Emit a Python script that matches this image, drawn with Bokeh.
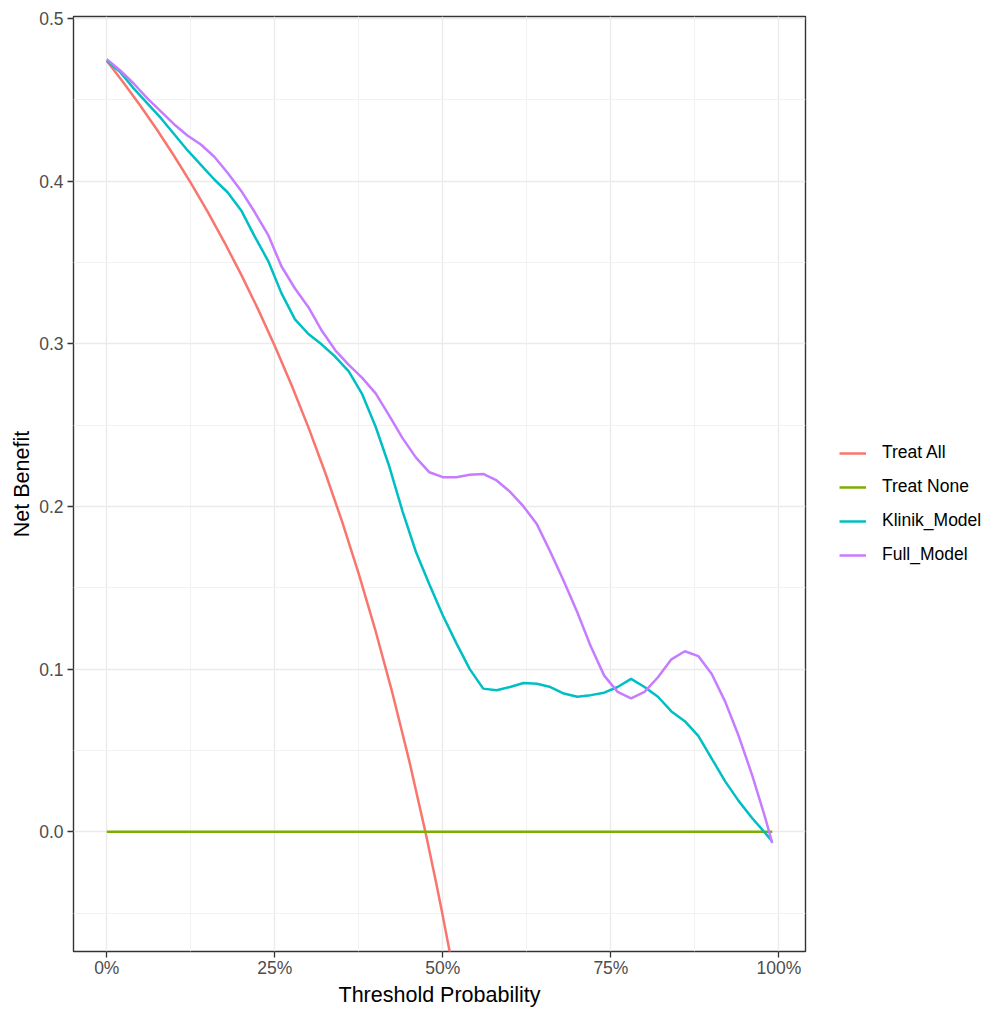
from bokeh.plotting import figure
from bokeh.models import Legend, LegendItem, FixedTicker, NumeralTickFormatter, Range1d
from bokeh.embed import file_html
from bokeh.resources import INLINE

# ---- data ----
thresholds = [0.00, 0.02, 0.04, 0.06, 0.08, 0.10, 0.12, 0.14, 0.16, 0.18,
              0.20, 0.22, 0.24, 0.26, 0.28, 0.30, 0.32, 0.34, 0.36, 0.38,
              0.40, 0.42, 0.44, 0.46, 0.48, 0.50, 0.52, 0.54, 0.56, 0.58,
              0.60, 0.62, 0.64, 0.66, 0.68, 0.70, 0.72, 0.74, 0.76, 0.78,
              0.80, 0.82, 0.84, 0.86, 0.88, 0.90, 0.92, 0.94, 0.96, 0.98, 0.99]

klinik_model = [0.474, 0.467, 0.457, 0.448, 0.439, 0.429, 0.419, 0.410, 0.401, 0.393,
                0.382, 0.366, 0.351, 0.331, 0.315, 0.306, 0.2995, 0.292, 0.283, 0.269,
                0.249, 0.225, 0.197, 0.172, 0.152, 0.133, 0.116, 0.100, 0.088, 0.087,
                0.089, 0.0915, 0.091, 0.089, 0.085, 0.083, 0.084, 0.0855, 0.089, 0.094,
                0.089, 0.083, 0.074, 0.068, 0.059, 0.045, 0.031, 0.019, 0.0085, -0.001, -0.006]

full_model = [0.475, 0.468, 0.460, 0.451, 0.443, 0.435, 0.428, 0.4225, 0.415, 0.405,
              0.394, 0.381, 0.367, 0.3475, 0.334, 0.3225, 0.308, 0.296, 0.287, 0.279,
              0.2695, 0.256, 0.242, 0.230, 0.221, 0.218, 0.218, 0.2195, 0.220, 0.216,
              0.209, 0.200, 0.189, 0.172, 0.154, 0.135, 0.114, 0.096, 0.086, 0.082,
              0.086, 0.095, 0.106, 0.111, 0.108, 0.097, 0.080, 0.059, 0.035, 0.008, -0.007]

treat_none = [0.0] * len(thresholds)

treat_all_thresholds = [0.0, 0.025, 0.05, 0.075, 0.10, 0.125, 0.15, 0.175, 0.20, 0.225,
                        0.25, 0.275, 0.30, 0.325, 0.35, 0.375, 0.40, 0.425, 0.45, 0.475,
                        0.49, 0.50, 0.51, 0.52]
treat_all = [0.474, 0.4605, 0.4463, 0.4314, 0.4156, 0.3989, 0.3812, 0.3624, 0.3425, 0.3213,
             0.2987, 0.2745, 0.2486, 0.2207, 0.1908, 0.1584, 0.1233, 0.0852, 0.0436, -0.0019,
             -0.0314, -0.052, -0.0735, -0.0958]

x_ticks = [0.0, 0.25, 0.5, 0.75, 1.0]
x_minor = [0.125, 0.375, 0.625, 0.875]
y_ticks = [0.0, 0.1, 0.2, 0.3, 0.4, 0.5]
y_minor = [-0.05, 0.05, 0.15, 0.25, 0.35, 0.45]

series_names = ["Treat All", "Treat None", "Klinik_Model", "Full_Model"]
series_colors = ["#F8766D", "#7CAE00", "#00BFC4", "#C77CFF"]

FONT = "Liberation Sans"

p = figure(frame_width=732, frame_height=935,
           x_range=Range1d(-0.0495, 1.0395), y_range=Range1d(-0.0736, 0.5012),
           output_backend="svg", toolbar_location=None,
           min_border_left=73, min_border_right=10, min_border_top=16, min_border_bottom=50,
           x_axis_label="Threshold Probability", y_axis_label="Net Benefit")

p.background_fill_color = "white"
p.border_fill_color = "white"
p.outline_line_color = "#333333"
p.outline_line_width = 1.4

p.xaxis.ticker = FixedTicker(ticks=x_ticks, minor_ticks=x_minor)
p.yaxis.ticker = FixedTicker(ticks=y_ticks, minor_ticks=y_minor)
p.xaxis.formatter = NumeralTickFormatter(format="0%")
p.yaxis.formatter = NumeralTickFormatter(format="0.0")

for ax in (p.xaxis, p.yaxis):
    ax.axis_line_color = None
    ax.major_tick_line_color = "#333333"
    ax.major_tick_line_width = 1.3
    ax.major_tick_out = 6
    ax.major_tick_in = 0
    ax.minor_tick_line_color = None
    ax.major_label_text_font = FONT
    ax.major_label_text_font_size = "17.5px"
    ax.major_label_text_color = "#4D4D4D"
    ax.axis_label_text_font = FONT
    ax.axis_label_text_font_size = "21.5px"
    ax.axis_label_text_font_style = "normal"
    ax.axis_label_text_color = "black"
p.xaxis.major_label_standoff = 0
p.yaxis.major_label_standoff = 4
p.xaxis.axis_label_standoff = 2
p.yaxis.axis_label_standoff = 2

for g in (p.xgrid, p.ygrid):
    g.grid_line_color = "#EBEBEB"
    g.grid_line_width = 1.4
    g.minor_grid_line_color = "#F2F2F2"
    g.minor_grid_line_width = 1.0

LW = 2.5
r_all = p.line(treat_all_thresholds, treat_all, line_color=series_colors[0], line_width=LW)
r_none = p.line(thresholds, treat_none, line_color=series_colors[1], line_width=LW)
r_klinik = p.line(thresholds, klinik_model, line_color=series_colors[2], line_width=LW)
r_full = p.line(thresholds, full_model, line_color=series_colors[3], line_width=LW)

renderers = [r_all, r_none, r_klinik, r_full]
legend = Legend(items=[LegendItem(label=n, renderers=[r]) for n, r in zip(series_names, renderers)],
                location=(34, 386), padding=0, margin=0, spacing=13,
                glyph_width=27, glyph_height=20, label_height=20, label_standoff=16,
                label_text_font=FONT, label_text_font_size="17.5px", label_text_color="black",
                border_line_color=None, background_fill_alpha=0)
p.add_layout(legend, "right")

open("out.html", "w").write(file_html(p, INLINE))
